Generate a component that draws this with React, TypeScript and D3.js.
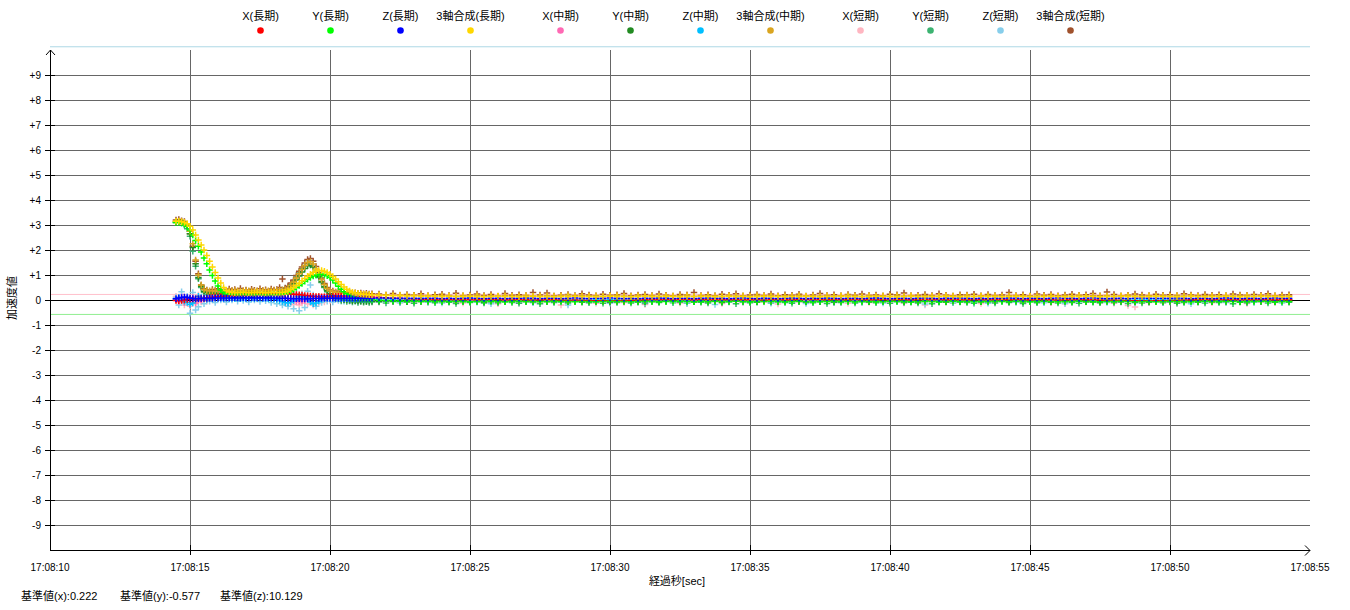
import React from "react";
import * as d3 from "d3";

// ---- sampling (seconds after 17:08:00) ----
const startA = 14.5;
const stepA = 0.1;
const startB = 21.75;
const stepB = 0.25;

// ---- legend / series ----
const seriesNames = [
  "X(長期)", "Y(長期)", "Z(長期)", "3軸合成(長期)",
  "X(中期)", "Y(中期)", "Z(中期)", "3軸合成(中期)",
  "X(短期)", "Y(短期)", "Z(短期)", "3軸合成(短期)",
];
const seriesColors = [
  "#ff0000", "#00ff00", "#0000ff", "#ffd700",
  "#ff69b4", "#228b22", "#00bfff", "#daa520",
  "#ffb6c1", "#3cb371", "#87ceeb", "#a0522d",
];
// drawing order: short-period series first, long-period series on top
const drawOrder = [8, 9, 10, 11, 4, 5, 6, 7, 0, 1, 2, 3];

// ---- axes ----
const xTickSeconds = [10, 15, 20, 25, 30, 35, 40, 45, 50, 55];
const yTickValues = [-9, -8, -7, -6, -5, -4, -3, -2, -1, 0, 1, 2, 3, 4, 5, 6, 7, 8, 9];
const baseX = 0.222;
const baseY = -0.577;
const baseZ = 10.129;

// ---- segment A (14.5 s .. 21.5 s, every 0.1 s) ----
const xLongA = [
  -.02, -.03, -.02, 0, .02, .03, .04, .04, .05, .06,
  .07, .08, .1, .11, .12, .13, .14, .15, .16, .17,
  .17, .18, .19, .2, .2, .21, .22, .22, .23, .23,
  .24, .24, .25, .25, .25, .26, .26, .26, .26, .25,
  .25, .24, .23, .22, .21, .2, .18, .17, .16, .15,
  .14, .14, .13, .13, .13, .14, .14, .15, .15, .16,
  .16, .16, .16, .15, .15, .15, .14, .14, .13, .13,
  .12,
];
const yLongA = [
  3.1, 3.1, 3.08, 3.03, 2.95, 2.8, 2.6, 2.38, 2.15, 1.92,
  1.68, 1.45, 1.2, .98, .76, .56, .4, .3, .25, .23,
  .22, .22, .21, .22, .22, .21, .22, .22, .21, .22,
  .22, .21, .22, .22, .21, .22, .22, .23, .24, .27,
  .31, .36, .42, .5, .58, .66, .75, .83, .9, .96,
  1.0, 1.03, 1.04, 1.02, .97, .9, .8, .68, .55, .43,
  .33, .25, .19, .14, .1, .08, .06, .05, .04, .03,
  .02,
];
const zLongA = [
  .05, .08, .1, .12, .1, .08, .06, .05, .05, .06,
  .06, .07, .07, .07, .08, .08, .08, .08, .08, .08,
  .08, .09, .08, .08, .09, .08, .08, .09, .08, .08,
  .09, .08, .08, .09, .08, .08, .08, .07, .07, .07,
  .06, .06, .05, .05, .05, .04, .04, .05, .05, .06,
  .06, .06, .07, .07, .07, .07, .07, .07, .07, .07,
  .07, .07, .07, .07, .07, .07, .07, .07, .07, .07,
  .07,
];
const sumLongA = [
  3.15, 3.15, 3.13, 3.1, 3.05, 2.95, 2.8, 2.6, 2.4, 2.2,
  2.0, 1.78, 1.55, 1.32, 1.1, .88, .68, .5, .38, .32,
  .3, .29, .3, .3, .31, .3, .29, .3, .3, .31,
  .3, .3, .29, .3, .31, .3, .3, .3, .31, .32,
  .36, .42, .5, .58, .67, .77, .86, .95, 1.03, 1.1,
  1.15, 1.18, 1.18, 1.15, 1.1, 1.03, .94, .84, .73, .62,
  .52, .43, .36, .31, .28, .26, .24, .23, .22, .21,
  .2,
];
const xMidA = [
  .02, -.05, .08, -.1, .05, -.08, .1, -.12, .04, 0,
  .06, .02, .08, .05, .1, .07, .12, .09, .14, .1,
  .12, .15, .13, .16, .14, .18, .15, .17, .19, .16,
  .18, .2, .17, .19, .21, .18, .2, .16, .14, .1,
  .06, .02, -.02, -.05, -.06, -.04, -.02, 0, .03, .06,
  .08, .1, .11, .12, .13, .12, .13, .14, .13, .12,
  .12, .11, .12, .1, .11, .09, .1, .08, .09, .07,
  .07,
];
const yMidA = [
  3.1, 3.12, 3.1, 3.05, 2.95, 2.65, 2.1, 1.45, .9, .55,
  .35, .3, .28, .27, .27, .26, .27, .26, .27, .26,
  .26, .27, .26, .26, .27, .26, .26, .27, .26, .26,
  .27, .26, .27, .27, .28, .28, .29, .3, .32, .35,
  .42, .52, .65, .8, .96, 1.12, 1.26, 1.37, 1.4, 1.32,
  1.14, .93, .73, .53, .37, .25, .17, .11, .06, .03,
  .01, 0, -.02, -.03, -.03, -.04, -.04, -.05, -.05, -.05,
  -.05,
];
const zMidA = [
  .05, .1, 0, -.05, -.1, -.18, -.12, .05, .15, .1,
  .08, .02, .06, .04, .08, .06, .07, .05, .08, .06,
  .07, .06, .08, .05, .07, .06, .08, .07, .06, .07,
  .08, .06, .07, .05, .06, .04, .02, -.02, -.06, -.1,
  -.12, -.08, -.02, .05, .12, .15, .1, .02, -.08, -.15,
  -.12, -.05, .02, .06, .08, .06, .07, .05, .06, .05,
  .06, .05, .04, .05, .04, .05, .04, .03, .04, .03,
  .03,
];
const sumMidA = [
  3.15, 3.16, 3.14, 3.1, 3.02, 2.75, 2.25, 1.6, 1.0, .6,
  .42, .38, .37, .37, .36, .37, .38, .37, .36, .37,
  .37, .38, .37, .36, .37, .38, .37, .37, .36, .37,
  .37, .38, .37, .37, .38, .38, .39, .39, .4, .42,
  .48, .58, .72, .88, 1.05, 1.22, 1.38, 1.5, 1.53, 1.44,
  1.24, 1.02, .82, .62, .46, .37, .33, .31, .3, .29,
  .28, .27, .27, .26, .25, .25, .24, .23, .23, .22,
  .22,
];
const xShortA = [
  .15, -.1, .22, -.2, .1, -.25, .05, -.15, .2, -.08,
  .1, -.05, .15, 0, .12, .05, .18, .02, .15, .08,
  .2, .1, .15, .22, .12, .18, .25, .14, .2, .16,
  .22, .18, .25, .15, .2, .12, .1, .02, -.05, -.12,
  -.15, -.1, -.18, -.08, -.2, -.12, -.05, -.16, -.1, -.2,
  -.06, -.14, 0, -.08, .05, -.02, .08, .02, .1, .05,
  .12, .06, .1, .04, .08, .02, .06, 0, .05, .01,
  .03,
];
const yShortA = [
  3.12, 3.15, 3.08, 3.0, 2.85, 2.55, 1.95, 1.35, .85, .5,
  .3, .22, .28, .24, .3, .2, .26, .22, .29, .25,
  .23, .28, .2, .27, .25, .3, .22, .26, .21, .28,
  .24, .29, .22, .27, .31, .25, .3, .36, .4, .45,
  .5, .62, .75, .92, 1.08, 1.25, 1.38, 1.48, 1.45, 1.35,
  1.15, .9, .7, .5, .33, .2, .12, .05, .02, -.04,
  -.02, -.06, -.04, -.08, -.05, -.1, -.06, -.09, -.07, -.1,
  -.08,
];
const zShortA = [
  .1, -.2, .33, -.1, .15, -.53, .3, -.4, -.27, .1,
  -.15, .18, -.05, .1, -.1, .12, 0, .08, -.08, .1,
  0, .06, -.05, .1, -.02, .05, -.08, .08, 0, .04,
  -.06, .08, -.03, .05, -.1, .12, -.15, .2, -.2, .1,
  -.25, .3, -.35, .25, -.43, .25, -.3, .35, .6, .2,
  -.25, .15, -.1, .12, -.05, .08, -.08, .05, -.02, .06,
  -.05, .04, -.03, .05, -.04, .03, -.02, .04, -.03, .02,
  0,
];
const sumShortA = [
  3.2, 3.22, 3.17, 3.14, 3.0, 2.65, 2.15, 1.55, 1.05, .6,
  .45, .4, .32, .42, .38, .45, .36, .4, .33, .44,
  .38, .42, .35, .46, .37, .4, .34, .43, .39, .36,
  .45, .38, .41, .35, .44, .4, .42, .5, .84, .48,
  .55, .68, .8, .98, 1.15, 1.32, 1.48, 1.62, 1.66, 1.55,
  1.34, 1.1, .88, .66, .5, .4, .36, .32, .35, .3,
  .31, .28, .3, .27, .29, .26, .28, .25, .27, .24,
  .25,
];

// ---- segment B (21.75 s .. 54.25 s, every 0.25 s) ----
const xLongB = [
  .11, .09, .07, .06, .05, .04, .03, .03, .02, .02,
  .02, .01, .02, .02, .01, .02, .03, .02, .01, .02,
  .02, .01, 0, .01, .02, .01, 0, -.01, 0, -.01,
  -.02, -.03, -.02, -.03, -.02, -.02, -.01, 0, .01, .02,
  .02, .03, .02, .03, .02, .02, .03, .02, .02, .01,
  .02, .01, .01, .02, .01, 0, .01, .02, .01, .02,
  .02, .03, .02, .02, .01, .02, .02, .01, .02, .02,
  .01, .02, .01, 0, .01, .02, .01, .02, .02, .01,
  .02, .01, .02, .01, .01, .02, .01, .02, .01, .02,
  .01, .02, .02, .01, .02, .01, .01, 0, .01, .01,
  .02, .01, .01, 0, -.01, 0, -.01, -.02, -.03, -.03,
  -.04, -.03, -.03, -.02, -.01, 0, .01, .01, .02, .01,
  .02, .01, .02, .01, .02, .02, .01, .02, .01, .02, .01,
];
const yLongB = [
  -.01, -.02, -.03, -.04, -.04, -.05, -.05, -.05, -.06, -.06,
  -.06, -.05, -.06, -.07, -.06, -.06, -.05, -.06, -.07, -.06,
  -.05, -.06, -.06, -.07, -.06, -.05, -.06, -.06, -.07, -.06,
  -.06, -.07, -.06, -.05, -.06, -.06, -.07, -.06, -.05, -.06,
  -.07, -.06, -.06, -.05, -.06, -.07, -.06, -.06, -.05, -.06,
  -.06, -.05, -.06, -.07, -.06, -.06, -.05, -.06, -.07, -.06,
  -.05, -.06, -.07, -.06, -.06, -.05, -.06, -.06, -.07, -.06,
  -.06, -.07, -.06, -.05, -.06, -.06, -.07, -.06, -.05, -.06,
  -.07, -.06, -.05, -.06, -.06, -.07, -.06, -.06, -.05, -.06,
  -.06, -.05, -.06, -.07, -.06, -.05, -.06, -.07, -.06, -.06,
  -.05, -.06, -.06, -.07, -.06, -.06, -.05, -.06, -.07, -.06,
  -.06, -.07, -.06, -.05, -.06, -.06, -.07, -.06, -.05, -.06,
  -.06, -.05, -.06, -.07, -.06, -.06, -.05, -.06, -.07, -.06, -.06,
];
const zLongB = [
  .08, .08, .07, .07, .07, .07, .06, .07, .07, .06,
  .07, .06, .07, .08, .07, .06, .07, .07, .06, .07,
  .07, .08, .07, .06, .07, .07, .06, .07, .08, .07,
  .06, .07, .07, .08, .07, .06, .07, .06, .07, .07,
  .08, .07, .06, .07, .07, .06, .07, .08, .07, .07,
  .06, .07, .08, .07, .06, .07, .07, .06, .07, .08,
  .07, .06, .07, .07, .08, .07, .06, .07, .07, .06,
  .07, .08, .07, .06, .07, .07, .06, .07, .08, .07,
  .06, .07, .07, .08, .07, .06, .07, .06, .07, .07,
  .08, .07, .06, .07, .07, .06, .07, .08, .07, .07,
  .06, .07, .08, .07, .06, .07, .07, .06, .07, .08,
  .07, .06, .07, .07, .08, .07, .06, .07, .07, .06,
  .07, .08, .07, .06, .07, .07, .06, .07, .08, .07, .07,
];
const sumLongB = [
  .19, .18, .17, .17, .16, .16, .15, .15, .15, .14,
  .15, .14, .14, .15, .14, .13, .14, .15, .14, .14,
  .13, .14, .15, .14, .14, .13, .14, .14, .15, .14,
  .14, .13, .14, .15, .14, .14, .13, .14, .15, .14,
  .14, .15, .14, .13, .14, .14, .15, .14, .13, .14,
  .15, .14, .14, .13, .14, .15, .14, .14, .13, .14,
  .14, .15, .14, .13, .14, .14, .15, .14, .14, .13,
  .14, .15, .14, .14, .13, .14, .15, .14, .13, .14,
  .14, .15, .14, .13, .14, .14, .15, .14, .14, .13,
  .14, .15, .14, .14, .13, .14, .15, .14, .13, .14,
  .14, .15, .14, .13, .14, .14, .15, .14, .14, .13,
  .14, .15, .14, .14, .13, .14, .15, .14, .13, .14,
  .14, .15, .14, .13, .14, .14, .15, .14, .14, .13, .14,
];
const xMidB = [
  .08, .06, .04, .07, .03, .05, .02, .04, .01, .03,
  .02, 0, .04, .01, -.02, .03, .01, .05, 0, .02,
  -.01, .03, .01, .04, -.02, .02, 0, .03, .01, -.03,
  .01, -.02, .02, 0, -.04, .01, .03, -.01, .02, 0,
  .03, .01, -.02, .02, .04, 0, .02, -.01, .03, .01,
  0, .02, -.03, .01, .03, -.01, .02, 0, .04, .01,
  .02, -.02, .01, .03, 0, .02, -.01, .01, .03, .02,
  0, .02, .04, -.01, .01, .03, 0, .02, -.02, .01,
  .03, .01, -.01, .02, 0, .04, .01, -.02, .02, .01,
  .02, 0, .03, -.01, .01, .02, -.03, .01, .03, 0,
  .01, .03, -.01, .02, 0, -.02, -.03, -.04, -.03, -.05,
  -.04, -.02, -.03, 0, .01, .02, -.01, .03, .01, .02,
  0, .02, .01, .03, -.01, .02, .01, 0, .03, .01, .02,
];
const yMidB = [
  -.05, -.04, -.06, -.05, -.07, -.04, -.06, -.05, -.03, -.06,
  -.05, -.07, -.04, -.06, -.05, -.08, -.04, -.05, -.06, -.03,
  -.06, -.05, -.07, -.04, -.06, -.05, -.03, -.07, -.05, -.06,
  -.04, -.06, -.05, -.08, -.05, -.04, -.06, -.05, -.07, -.04,
  -.06, -.05, -.03, -.06, -.05, -.07, -.04, -.06, -.05, -.08,
  -.05, -.04, -.06, -.05, -.07, -.03, -.06, -.05, -.04, -.06,
  -.05, -.07, -.04, -.06, -.05, -.08, -.05, -.04, -.06, -.05,
  -.07, -.04, -.06, -.05, -.03, -.06, -.05, -.07, -.04, -.06,
  -.05, -.08, -.04, -.06, -.05, -.04, -.07, -.05, -.06, -.03,
  -.06, -.05, -.07, -.04, -.06, -.05, -.08, -.04, -.05, -.06,
  -.04, -.06, -.05, -.07, -.05, -.04, -.06, -.05, -.08, -.04,
  -.06, -.05, -.07, -.04, -.06, -.05, -.03, -.06, -.05, -.07,
  -.04, -.06, -.05, -.08, -.05, -.04, -.06, -.05, -.07, -.04, -.05,
];
const zMidB = [
  .03, .05, .02, .04, .01, .03, .05, .02, .04, .03,
  .01, .04, .02, .05, .03, 0, .04, .02, .03, .05,
  .02, .04, .01, .03, .05, .02, .04, .03, 0, .03,
  .05, .02, .04, .01, .03, .05, .02, .04, .03, .01,
  .04, .02, .05, .03, 0, .04, .02, .03, .05, .02,
  .04, .01, .03, .05, .02, .04, .03, 0, .03, .05,
  .02, .04, .01, .03, .05, .02, .04, .03, .01, .04,
  .02, .05, .03, 0, .04, .02, .03, .05, .02, .04,
  .01, .03, .05, .02, .04, .03, 0, .03, .05, .02,
  .04, .01, .03, .05, .02, .04, .03, .01, .04, .02,
  .05, .03, 0, .04, .02, .03, .05, .02, .04, .01,
  .03, .05, .02, .04, .03, 0, .03, .05, .02, .04,
  .01, .03, .05, .02, .04, .03, .01, .04, .02, .05, .03,
];
const sumMidB = [
  .21, .2, .19, .2, .18, .19, .17, .18, .16, .18,
  .17, .15, .18, .16, .19, .15, .17, .16, .18, .15,
  .17, .19, .16, .15, .18, .16, .17, .2, .15, .17,
  .16, .18, .15, .17, .19, .16, .15, .18, .16, .17,
  .15, .18, .16, .17, .2, .15, .16, .18, .17, .15,
  .18, .16, .17, .15, .19, .16, .18, .15, .17, .16,
  .19, .15, .17, .16, .18, .15, .17, .2, .16, .15,
  .18, .16, .17, .15, .19, .16, .18, .15, .17, .16,
  .15, .18, .16, .17, .19, .15, .16, .18, .17, .15,
  .18, .16, .17, .15, .2, .16, .18, .15, .17, .16,
  .19, .15, .17, .16, .18, .15, .17, .19, .16, .15,
  .18, .16, .17, .15, .19, .16, .18, .15, .17, .16,
  .15, .18, .16, .17, .19, .15, .16, .18, .17, .15, .16,
];
const xShortB = [
  .05, -.02, .08, -.06, .03, -.1, .01, -.04, .06, -.08,
  -.02, .04, -.12, -.03, .02, -.07, -.01, -.15, .03, -.05,
  -.09, .01, -.04, -.11, .02, -.06, -.2, -.03, .04, -.08,
  -.05, -.13, .01, -.07, -.03, -.1, .02, -.06, -.18, -.02,
  -.08, .03, -.04, -.12, -.01, -.07, .02, -.09, -.05, -.14,
  .01, -.06, -.1, -.03, .03, -.08, -.02, -.16, -.05, .02,
  -.07, -.11, -.01, -.05, .02, -.09, -.04, -.13, 0, -.06,
  -.1, -.02, .03, -.08, -.05, -.12, -.01, -.07, -.2, -.03,
  .02, -.06, -.1, -.04, .01, -.08, -.14, -.02, -.06, .03,
  -.09, -.05, -.12, -.01, -.07, .02, -.1, -.04, -.15, -.06,
  -.02, -.08, .01, -.11, -.05, -.13, -.07, -.22, -.28, -.04,
  -.1, -.03, .02, -.07, -.12, -.04, .01, -.08, -.05, -.11,
  -.03, -.09, .02, -.06, -.14, -.02, -.07, .01, -.1, -.05, -.08,
];
const yShortB = [
  -.08, -.12, -.05, -.1, -.07, -.13, -.06, -.09, -.11, -.04,
  -.09, -.14, -.07, -.1, -.05, -.12, -.08, -.11, -.06, -.1,
  -.13, -.07, -.09, -.15, -.06, -.1, -.08, -.12, -.05, -.09,
  -.11, -.07, -.13, -.08, -.1, -.06, -.12, -.09, -.14, -.07,
  -.1, -.05, -.11, -.08, -.13, -.07, -.09, -.12, -.06, -.1,
  -.08, -.15, -.07, -.11, -.09, -.05, -.12, -.08, -.1, -.13,
  -.06, -.09, -.11, -.07, -.14, -.08, -.1, -.05, -.12, -.09,
  -.07, -.11, -.08, -.13, -.06, -.1, -.09, -.12, -.07, -.15,
  -.09, -.06, -.11, -.08, -.1, -.13, -.07, -.09, -.12, -.05,
  -.1, -.08, -.14, -.07, -.11, -.09, -.06, -.12, -.08, -.1,
  -.13, -.07, -.09, -.11, -.05, -.1, -.08, -.14, -.07, -.12,
  -.09, -.06, -.11, -.08, -.13, -.1, -.07, -.09, -.12, -.06,
  -.1, -.08, -.15, -.07, -.11, -.09, -.05, -.12, -.08, -.1, -.09,
];
const zShortB = [
  .05, -.06, .02, -.1, .06, -.03, .08, -.08, 0, -.12,
  .04, -.05, .07, -.02, -.09, .03, -.15, .05, -.04, .01,
  -.07, .06, -.11, .02, -.03, .08, -.06, -.2, .03, -.05,
  .04, -.09, .01, -.13, .06, -.02, -.07, .05, -.1, .02,
  -.04, .07, -.08, 0, -.12, .03, -.05, .06, -.18, .01,
  -.06, .04, -.09, .02, -.03, .07, -.11, .05, -.02, -.08,
  .03, -.14, .06, -.04, .01, -.1, .05, -.06, .02, -.09,
  .07, -.03, -.12, .04, -.07, .02, -.05, .08, -.16, .01,
  -.04, .06, -.1, .03, -.02, -.08, .05, -.13, .02, -.06,
  .04, -.09, .01, -.05, .07, -.11, .03, -.03, -.14, .05,
  -.07, .02, -.04, .06, -.1, .01, -.06, .04, -.12, .03,
  -.05, .07, -.09, .02, -.03, .05, -.15, .01, -.07, .04,
  -.02, -.1, .06, -.04, .03, -.08, .05, -.06, .02, -.11, .04,
];
const sumShortB = [
  .24, .2, .26, .18, .22, .19, .25, .17, .21, .23,
  .18, .27, .16, .2, .24, .18, .22, .15, .26, .19,
  .21, .17, .3, .2, .28, .16, .19, .22, .18, .25,
  .2, .16, .23, .19, .21, .26, .17, .2, .22, .18,
  .24, .19, .16, .22, .2, .3, .18, .21, .17, .23,
  .19, .25, .16, .2, .22, .18, .24, .17, .21, .19,
  .23, .16, .2, .26, .18, .21, .17, .22, .19, .24,
  .18, .2, .16, .23, .21, .28, .17, .19, .22, .18,
  .25, .19, .16, .21, .2, .23, .17, .22, .18, .2,
  .3, .18, .21, .16, .24, .19, .22, .17, .2, .23,
  .18, .21, .26, .17, .32, .22, .16, .19, .24, .2,
  .17, .23, .19, .21, .16, .25, .2, .18, .22, .19,
  .21, .17, .24, .2, .18, .22, .19, .25, .17, .2, .21,
];

const seriesA = [xLongA, yLongA, zLongA, sumLongA, xMidA, yMidA, zMidA, sumMidA, xShortA, yShortA, zShortA, sumShortA];
const seriesB = [xLongB, yLongB, zLongB, sumLongB, xMidB, yMidB, zMidB, sumMidB, xShortB, yShortB, zShortB, sumShortB];

const FONT = "'Liberation Sans', Arial, 'Noto Sans CJK JP', sans-serif";

export default function App() {
  const W = 1350;
  const H = 610;
  const left = 50, right = 1310, top = 50, bottom = 550;
  const x = d3.scaleLinear().domain([10, 55]).range([left, right]);
  const y = d3.scaleLinear().domain([-10, 10]).range([bottom, top]);
  const fmt = (s: number) => `17:08:${String(s).padStart(2, "0")}`;
  const yFmt = (v: number) => (v > 0 ? `+${v}` : `${v}`);
  const h = 2.5;

  const markerPath = (i: number) => {
    const pts: [number, number][] = [];
    seriesA[i].forEach((v, k) => pts.push([startA + k * stepA, v]));
    seriesB[i].forEach((v, k) => pts.push([startB + k * stepB, v]));
    return pts
      .map(([t, v]) => {
        const px = x(t), py = y(v);
        return `M${(px - h).toFixed(1)},${py.toFixed(1)}h${2 * h}M${px.toFixed(1)},${(py - h).toFixed(1)}v${2 * h}`;
      })
      .join("");
  };

  const legendX = (i: number) => 260.5 + 70 * i + 20 * Math.floor(i / 4);

  return (
    <svg width={W} height={H} style={{ position: "absolute", left: 0, top: 0, background: "#fff" }} fontFamily={FONT}>
      {/* legend */}
      {seriesNames.map((n, i) => (
        <g key={n}>
          <text x={legendX(i)} y={20} fontSize={11} textAnchor="middle" fill="#000">{n}</text>
          <circle cx={legendX(i)} cy={30.5} r={3.3} fill={seriesColors[i]} />
        </g>
      ))}

      {/* horizontal grid */}
      {yTickValues.filter((v) => v !== 0).map((v) => (
        <line key={"hg" + v} x1={left + 5} x2={right} y1={Math.round(y(v)) + 0.5} y2={Math.round(y(v)) + 0.5} stroke="#666" strokeWidth={1} />
      ))}
      {/* vertical grid */}
      {xTickSeconds.slice(1, -1).map((s) => (
        <line key={"vg" + s} x1={Math.round(x(s)) + 0.5} x2={Math.round(x(s)) + 0.5} y1={top} y2={bottom - 5} stroke="#666" strokeWidth={1} />
      ))}

      {/* base value reference lines */}
      <line x1={left} x2={right} y1={y(baseX)} y2={y(baseX)} stroke="#ffc0cb" strokeWidth={1} />
      <line x1={left} x2={right} y1={y(baseY)} y2={y(baseY)} stroke="#90ee90" strokeWidth={1} />
      <line x1={left} x2={right} y1={y(baseZ)} y2={y(baseZ)} stroke="#add8e6" strokeWidth={1} />

      {/* zero line */}
      <line x1={left} x2={right} y1={Math.round(y(0)) + 0.5} y2={Math.round(y(0)) + 0.5} stroke="#000" strokeWidth={1} />

      {/* data */}
      {drawOrder.map((i) => (
        <path key={"s" + i} d={markerPath(i)} stroke={seriesColors[i]} strokeWidth={1.5} strokeLinecap="square" fill="none" />
      ))}

      {/* y axis */}
      <line x1={left + 0.5} x2={left + 0.5} y1={bottom} y2={top} stroke="#000" />
      <path d={`M${left - 4},${top + 5}L${left + 0.5},${top}L${left + 5},${top + 5}`} stroke="#000" fill="none" />
      {yTickValues.map((v) => (
        <g key={"yt" + v}>
          <line x1={left - 5} x2={left + 5} y1={Math.round(y(v)) + 0.5} y2={Math.round(y(v)) + 0.5} stroke="#000" />
          <text x={left - 9} y={y(v)} dy="0.35em" fontSize={10} textAnchor="end" fill="#000">{yFmt(v)}</text>
        </g>
      ))}

      {/* x axis */}
      <line x1={left} x2={right} y1={bottom + 0.5} y2={bottom + 0.5} stroke="#000" />
      <path d={`M${right - 5},${bottom - 4.5}L${right},${bottom + 0.5}L${right - 5},${bottom + 5.5}`} stroke="#000" fill="none" />
      {xTickSeconds.map((s) => (
        <g key={"xt" + s}>
          {s !== 10 && s !== 55 && (
            <line x1={Math.round(x(s)) + 0.5} x2={Math.round(x(s)) + 0.5} y1={bottom - 5} y2={bottom + 5} stroke="#000" />
          )}
          <text x={x(s)} y={571} fontSize={10} textAnchor="middle" fill="#000">{fmt(s)}</text>
        </g>
      ))}

      {/* axis titles */}
      <text x={677} y={585} fontSize={11} textAnchor="middle" fill="#000">経過秒[sec]</text>
      <text transform="translate(16,298) rotate(-90)" fontSize={11} textAnchor="middle" fill="#000">加速度値</text>

      {/* base values */}
      <text x={21} y={600} fontSize={11} fill="#000">{`基準値(x):${baseX}`}</text>
      <text x={120} y={600} fontSize={11} fill="#000">{`基準値(y):${baseY}`}</text>
      <text x={220} y={600} fontSize={11} fill="#000">{`基準値(z):${baseZ}`}</text>
    </svg>
  );
}
